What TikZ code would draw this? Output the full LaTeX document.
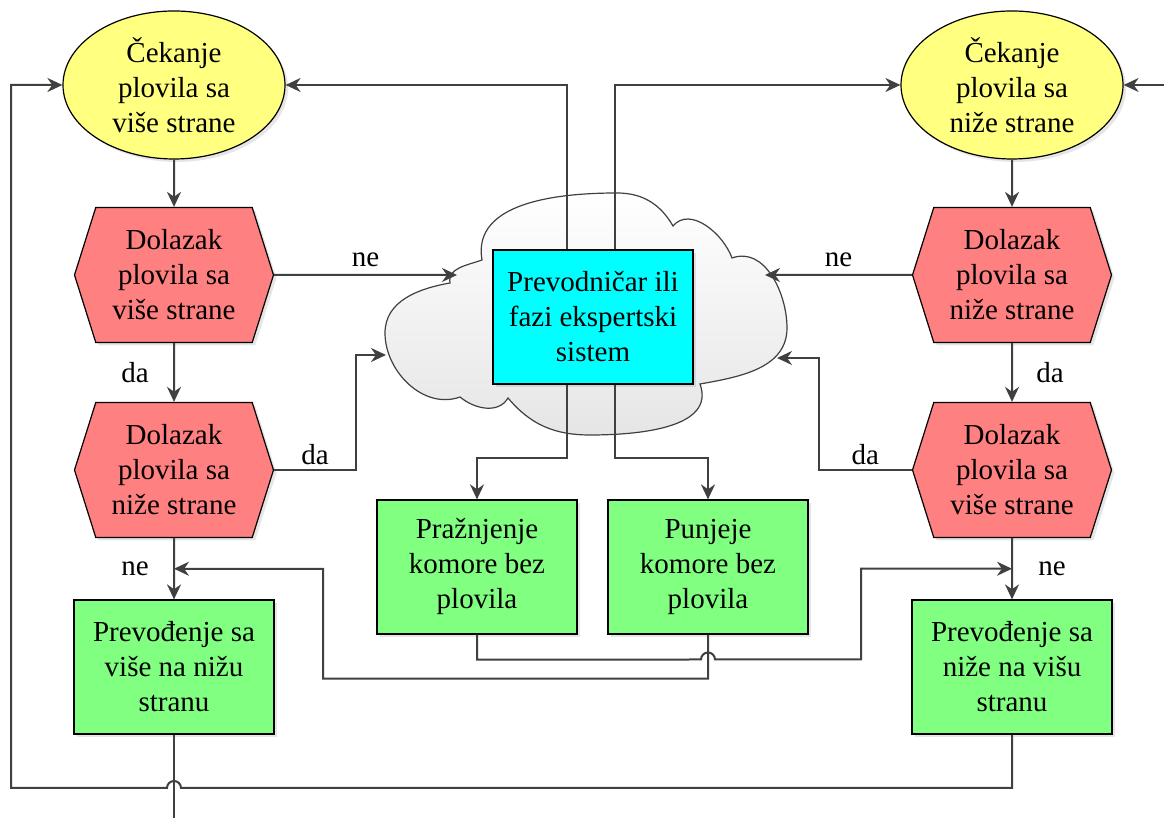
\documentclass[tikz,border=0pt]{standalone}
\usepackage{fontspec}
\setmainfont{Liberation Serif}
\usetikzlibrary{shapes, arrows.meta, positioning, shadows, calc}
\definecolor{waitcol}{HTML}{FFFF80}
\definecolor{checkcol}{HTML}{FF8080}
\definecolor{actcol}{HTML}{80FF80}
\definecolor{expcol}{HTML}{00FFFF}
\definecolor{linecol}{HTML}{404040}
\tikzstyle{shade} = [drop shadow={opacity=0.2, shadow xshift=3pt, shadow yshift=-3pt}]
\tikzstyle{wait} = [ellipse, minimum width=222pt, minimum height=148pt, inner sep=0pt, align=center, draw=black, line width=1.2pt, fill=waitcol, shade]
\tikzstyle{check} = [signal, signal to=west and east, signal pointer angle=145, minimum width=199pt, minimum height=135pt, inner sep=0pt, align=center, draw=black, line width=1.2pt, fill=checkcol, shade]
\tikzstyle{action} = [rectangle, minimum width=200pt, minimum height=134pt, align=center, draw=black, line width=1.2pt, fill=actcol, shade]
\tikzstyle{expert} = [rectangle, minimum width=200pt, minimum height=134pt, align=center, draw=black, line width=1.2pt, fill=expcol, shade]
\tikzstyle{line} = [draw=linecol, line width=2pt]
\tikzstyle{arrow} = [line, -{Stealth[length=15pt, width=14pt]}]

\begin{document}
\begin{tikzpicture}[x=1pt, y=1pt, node distance=195pt, font=\fontsize{29}{35}\selectfont]
\useasboundingbox (0,0) rectangle (1164,818);
% cloud behind the expert system
\draw [draw=linecol, line width=1.2pt, top color=white, bottom color=gray!20]
  (450,535) to[out=100,in=200] (482,558)
  to[out=100,in=180] (617,625) to[out=0,in=120] (673,592)
  to[out=50,in=110] (732,560)
  to[out=20,in=90] (787,490) to[out=-90,in=10] (700,434)
  to[out=-70,in=0] (590,383) to[out=180,in=-50] (508,420)
  to[out=-120,in=-40] (460,421)
  to[out=-160,in=-90] (385,485) to[out=90,in=190] (450,535) -- cycle;
\coordinate (q1) at (457,543);
\coordinate (q2) at (386,463);
\coordinate (q3) at (765,543);
\coordinate (q4) at (777,460);

\node (w1) [wait] at (174,733) {Čekanje\\plovila sa\\više strane};
\node (w2) [wait, right of=w1, xshift=643pt] {Čekanje\\plovila sa\\niže strane};
\node (d1) [check, below of=w1, yshift=5pt] {Dolazak\\plovila sa\\više strane};
\node (d2) [check, below of=d1] {Dolazak\\plovila sa\\niže strane};
\node (t1) [action, below of=d2, yshift=-2pt] {Prevođenje sa\\više na nižu\\stranu};
\node (d3) [check, below of=w2, yshift=5pt] {Dolazak\\plovila sa\\niže strane};
\node (d4) [check, below of=d3] {Dolazak\\plovila sa\\više strane};
\node (t2) [action, below of=d4, yshift=-2pt] {Prevođenje sa\\niže na višu\\stranu};
\node (s) [expert] at (593,501) {Prevodničar ili\\fazi ekspertski\\sistem};
\node (k1) [action, below of=s, xshift=-116pt, yshift=-55pt] {Pražnjenje\\komore bez\\plovila};
\node (k2) [action, below of=s, xshift=115pt, yshift=-55pt] {Punjeje\\komore bez\\plovila};

\coordinate (j1) at ($(d2.south)!0.5!(t1.north)$);
\coordinate (j2) at ($(d4.south)!0.5!(t2.north)$);
\coordinate (o1) at (174,0);
\coordinate (i1) at (1164,733);

% left column
\draw [arrow] (w1) -- (d1);
\draw [arrow] (d1) -- node[xshift=-39pt] {da} (d2);
\draw [arrow] (d2) -- node[xshift=-39pt] {ne} (t1);
\draw [arrow] (d1) -- node[above=4pt] {ne} (q1);
\draw [arrow] (d2.east) -- ++(82,0) node[midway, above=1pt] {da} |- (q2);
% right column
\draw [arrow] (w2) -- (d3);
\draw [arrow] (d3) -- node[xshift=38pt] {da} (d4);
\draw [arrow] (d4) -- node[xshift=40pt] {ne} (t2);
\draw [arrow] (d3) -- node[above=4pt] {ne} (q3);
\draw [arrow] (d4.west) -- ++(-93,0) node[midway, above=1pt] {da} |- (q4);
% expert system
\draw [arrow] ([xshift=-26pt]s.north) |- (w1);
\draw [arrow] ([xshift=22pt]s.north) |- (w2);
\draw [arrow] ([xshift=-26pt]s.south) -- ++(0,-73) -| (k1);
\draw [arrow] ([xshift=22pt]s.south) -- ++(0,-73) -| (k2);
% returns
\draw [arrow] (k2.south) -- ++(0,-44) -| (323,249) -- (j1);
\draw [arrow] (k1.south) -- ++(0,-25) -- (701,158.5) arc[start angle=180, end angle=0, radius=7] -- (861,158.5) |- (j2);
\draw [arrow] (t2.south) -- (1012,30) -- (181,30) arc[start angle=0, end angle=180, radius=7] -- (11,30) |- (w1);
\draw [line] (t1) -- (o1);
\draw [arrow] (i1) -- (w2);
\end{tikzpicture}
\end{document}
